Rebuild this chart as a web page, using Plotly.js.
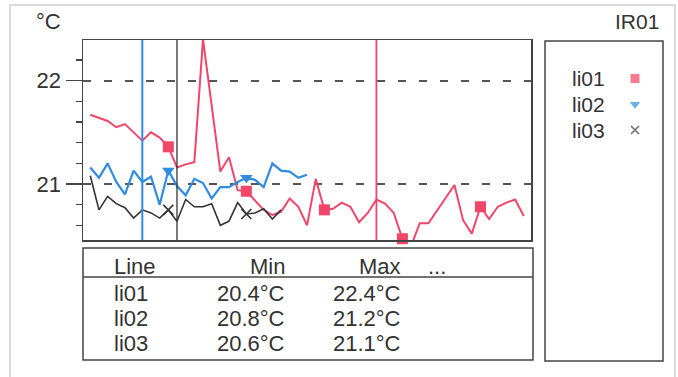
<!DOCTYPE html>
<html>
<head>
<meta charset="utf-8">
<script src="https://cdn.plot.ly/plotly-3.0.1.min.js"></script>
<style>
  html, body { margin: 0; padding: 0; background: #fff; }
  #chart { width: 678px; height: 377px; }
</style>
</head>
<body>
<div id="chart"></div>
<script>
// Temperature readings per sample, one array per line
const lineNames = ['li01', 'li02', 'li03'];
const li01 = [21.67, 21.64, 21.61, 21.55, 21.58, 21.50, 21.42, 21.50, 21.45, 21.36,
              21.16, 21.19, 21.21, 22.40, 21.78, 21.12, 21.26, 20.94, 20.93, 20.84,
              20.75, 20.70, 20.73, 20.86, 20.78, 20.60, 21.05, 20.75, 20.76, 20.82,
              20.78, 20.63, 20.72, 20.85, 20.81, 20.72, 20.47, 20.40, 20.62, 20.62,
              20.74, 20.86, 20.99, 20.65, 20.52, 20.78, 20.66, 20.78, 20.82, 20.85, 20.69];
const li02 = [21.16, 21.06, 21.20, 21.02, 20.90, 21.13, 21.02, 21.07, 20.80, 21.13,
              20.98, 20.89, 21.05, 21.01, 20.86, 20.97, 20.97, 21.02, 21.06, 21.04,
              20.97, 21.20, 21.13, 21.12, 21.06, 21.09];
const li03 = [21.08, 20.75, 20.88, 20.81, 20.77, 20.67, 20.75, 20.72, 20.67, 20.75,
              20.64, 20.85, 20.78, 20.78, 20.81, 20.60, 20.64, 20.82, 20.71, 20.72,
              20.76, 20.66, 20.75];
const series = [li01, li02, li03];
// Sample positions of the three cursors (blue, black, pink)
const cursorAt = [6, 10, 33];
// A marker is drawn on every ninth sample
const markerEvery = 9;
const yTicks = [21, 22];

const W = 678, H = 377;
const px = v => v / W;          // canvas pixel -> paper x
const py = v => 1 - v / H;      // canvas pixel -> paper y

const colors = ['#f2456a', '#2f8ce2', '#333333'];
const symbols = ['square', 'triangle-down', 'x-thin'];
const markerSizes = [11, 11, 10];
const lineWidths = [2, 2.2, 1.6];
const ink = '#333333';
const font = 'Liberation Sans, Arial, sans-serif';

const traces = [];
series.forEach((vals, k) => {
  const xs = vals.map((_, i) => i);
  traces.push({
    type: 'scatter', mode: 'lines', x: xs, y: vals,
    line: { color: colors[k], width: lineWidths[k] },
    hoverinfo: 'skip', showlegend: false, cliponaxis: true
  });
  const mx = xs.filter(i => i > 0 && i % markerEvery === 0);
  traces.push({
    type: 'scatter', mode: 'markers', x: mx, y: mx.map(i => vals[i]),
    marker: {
      symbol: symbols[k], size: markerSizes[k], color: colors[k],
      line: { color: colors[k], width: symbols[k] === 'x-thin' ? 1.6 : 0 }
    },
    showlegend: false, cliponaxis: false
  });
});

// Legend symbols, placed on their own small axes beside the names
traces.push({
  type: 'scatter', mode: 'markers', xaxis: 'x2', yaxis: 'y2',
  x: lineNames.map(() => 0), y: lineNames,
  marker: {
    symbol: symbols, size: [9, 9, 8], color: colors,
    line: { color: colors, width: [0, 0, 1.6] }
  },
  showlegend: false, cliponaxis: false
});

const shapes = [];
const rect = (x0, y0, x1, y1, color, width) => ({
  type: 'rect', xref: 'paper', yref: 'paper', layer: 'above',
  x0: px(x0), x1: px(x1), y0: py(y0), y1: py(y1),
  line: { color, width }, fillcolor: 'rgba(0,0,0,0)'
});
shapes.push(rect(10, 5, 675, 381, '#cfcfcf', 1.5));   // outer frame
shapes.push(rect(83, 248, 533, 360, '#444', 1.5));     // statistics table
shapes.push({ type: 'line', xref: 'paper', yref: 'paper',
  x0: px(83), x1: px(533), y0: py(277), y1: py(277), line: { color: '#444', width: 1.5 } });
shapes.push(rect(545, 41, 663, 361, '#444', 1.5));     // legend box
const cursorColors = ['#2f8ce2', '#333333', '#f2456a'];
const cursorWidths = [2, 1.3, 1.8];
cursorAt.forEach((c, k) => shapes.push({
  type: 'line', xref: 'x', yref: 'y domain', x0: c, x1: c, y0: 0, y1: 1,
  line: { color: cursorColors[k], width: cursorWidths[k] }, layer: 'above'
}));

const ann = [];
const txt = (text, x, y, xanchor, size) => ({
  text, xref: 'paper', yref: 'paper', x: px(x), y: py(y),
  xanchor, yanchor: 'middle', showarrow: false,
  font: { family: font, size: size || 22, color: ink }
});
ann.push(txt('°C', 34, 21, 'left', 22));
ann.push(txt('IR01', 661, 21, 'right', 21));

// Statistics table
const rowY = [293, 318, 343];
ann.push(txt('Line', 112, 266, 'left'));
ann.push(txt('Min', 287, 266, 'right'));
ann.push(txt('Max', 403, 266, 'right'));
ann.push(txt('...', 426, 266, 'left'));
const fmt = v => v.toFixed(1) + '°C';
series.forEach((vals, k) => {
  ann.push(txt(lineNames[k], 112, rowY[k], 'left'));
  ann.push(txt(fmt(Math.min(...vals)), 287, rowY[k], 'right'));
  ann.push(txt(fmt(Math.max(...vals)), 403, rowY[k], 'right'));
});

// Legend names
lineNames.forEach(n => ann.push({
  text: n, xref: 'paper', yref: 'y2', x: px(570), y: n,
  xanchor: 'left', yanchor: 'middle', showarrow: false,
  font: { family: font, size: 21, color: ink }
}));

const layout = {
  width: W, height: H,
  margin: { l: 0, r: 0, t: 0, b: 0 },
  paper_bgcolor: '#fff', plot_bgcolor: '#fff',
  showlegend: false,
  font: { family: font, color: ink },
  xaxis: {
    domain: [px(83), px(531)], range: [-0.84, 50.83],
    showgrid: false, zeroline: false, showticklabels: false, ticks: '',
    showline: true, mirror: true, linecolor: '#444', linewidth: 1.5
  },
  yaxis: {
    domain: [py(240), py(40)], range: [20.458, 22.394],
    tickvals: yTicks, ticktext: yTicks.map(String),
    ticks: 'outside', ticklen: 16, tickwidth: 1.3, tickcolor: '#444',
    tickfont: { family: font, size: 22, color: ink },
    showgrid: true, gridcolor: '#555', gridwidth: 1.8, griddash: '8px,13px',
    minor: { dtick: 0.2, tick0: 20, ticks: 'outside', ticklen: 6, tickwidth: 1.3, tickcolor: '#444', showgrid: false },
    zeroline: false,
    showline: true, mirror: true, linecolor: '#444', linewidth: 1.5
  },
  xaxis2: {
    domain: [px(625), px(645)], range: [-1, 1], anchor: 'y2',
    visible: false, fixedrange: true
  },
  yaxis2: {
    domain: [py(143.5), py(65)], anchor: 'x2', type: 'category',
    categoryorder: 'array', categoryarray: lineNames, autorange: 'reversed',
    visible: false, fixedrange: true
  },
  shapes, annotations: ann
};

Plotly.newPlot('chart', traces, layout, { staticPlot: true, displayModeBar: false });
</script>
</body>
</html>
